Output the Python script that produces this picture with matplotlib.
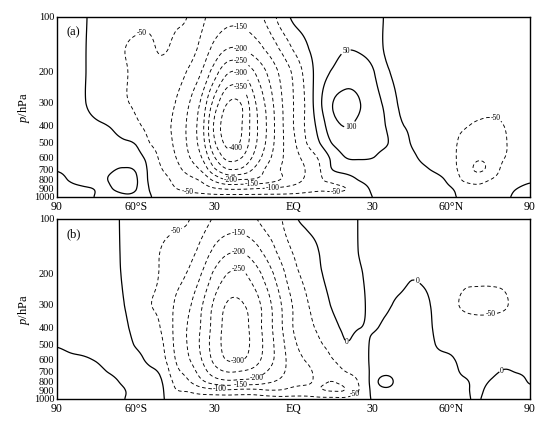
import numpy as np
import matplotlib
matplotlib.use('Agg')
import matplotlib.pyplot as plt

plt.rcParams['font.family'] = 'Liberation Serif'
plt.rcParams['mathtext.fontset'] = 'custom'
plt.rcParams['mathtext.it'] = 'Liberation Serif:italic'
plt.rcParams['mathtext.rm'] = 'Liberation Serif'
plt.rcParams['axes.unicode_minus'] = False
plt.rcParams['lines.dashed_pattern'] = [4, 3]

# grid the values were read on: 5 deg latitude, 11 pressure levels
lats = np.arange(-90, 91, 5)
levels_hpa = [100, 150, 200, 300, 400, 500, 600, 700, 800, 900, 1000]

# streamfunction, one row per latitude (100 ... 1000 hPa)
psi_a_cols = [
    [10, 12, 14, 15, 15, 12, 8, 2, -8, -12, -15],          # 90S
    [8, 8, 10, 12, 12, 12, 12, 8, 3, -10, -12],
    [3, 3, 3, 3, 10, 15, 18, 22, 20, -6, -8],
    [-10, -15, -15, -15, 5, 15, 25, 35, 35, 5, 3],
    [-28, -33, -35, -35, -2, 12, 30, 45, 52, 45, 30],
    [-38, -48, -45, -45, -20, 6, 30, 52, 60, 57, 45],
    [-43, -55, -57, -55, -42, -4, 18, 45, 55, 52, 40],
    [-44, -56, -60, -62, -62, -48, -17, -8, -5, 0, 5],
    [-40, -46, -62, -75, -85, -75, -65, -50, -32, -25, -15],
    [-45, -58, -75, -100, -110, -108, -98, -82, -62, -48, -30],
    [-52, -75, -105, -145, -160, -158, -145, -120, -85, -60, -35],
    [-90, -115, -150, -210, -230, -225, -200, -160, -110, -75, -35],
    [-118, -165, -225, -320, -360, -345, -300, -245, -165, -95, -35],
    [-135, -200, -292, -400, -428, -415, -370, -300, -205, -105, -35],
    [-135, -200, -295, -398, -405, -395, -355, -295, -200, -105, -35],
    [-120, -175, -250, -310, -320, -315, -290, -245, -195, -100, -35],
    [-88, -140, -195, -235, -245, -240, -220, -190, -175, -95, -35],
    [-32, -95, -140, -160, -165, -165, -160, -150, -150, -90, -35],
    [8, -45, -90, -100, -100, -110, -120, -130, -125, -80, -35],   # EQ
    [18, -5, -30, -40, -40, -50, -80, -95, -90, -65, -35],
    [25, 20, 25, 40, 20, 0, -40, -52, -55, -55, -35],
    [30, 35, 55, 100, 85, 55, 15, 3, -40, -55, -35],
    [32, 48, 78, 112, 102, 80, 52, 20, -22, -50, -30],
    [28, 45, 75, 102, 92, 78, 56, 25, 3, -20, -15],
    [18, 30, 55, 72, 70, 65, 52, 25, 15, 5, 0],
    [-3, -5, 10, 40, 50, 55, 35, 22, 20, 12, 5],
    [-15, -18, -15, -3, 8, 25, 22, 22, 22, 15, 8],
    [-20, -22, -25, -18, -8, -3, 8, 15, 22, 15, 8],
    [-22, -25, -28, -28, -25, -22, -12, 5, 18, 12, 8],
    [-22, -25, -28, -32, -38, -35, -30, -12, 10, 8, 6],
    [-22, -26, -30, -35, -45, -45, -42, -35, -15, 2, 3],
    [-22, -26, -30, -38, -48, -56, -65, -70, -58, -20, -5],
    [-22, -26, -30, -40, -53, -68, -92, -108, -68, -35, -10],
    [-20, -24, -28, -40, -55, -65, -85, -85, -50, -25, -10],
    [-18, -22, -25, -38, -50, -53, -52, -38, -28, -12, -5],
    [-12, -15, -18, -28, -35, -40, -40, -30, -15, 0, 5],
    [-8, -10, -12, -15, -20, -22, -20, -15, -5, 8, 15],     # 90N
]

psi_b_cols = [
    [8, 8, 8, 8, 6, 1, -5, -8, -10, -10, -10],             # 90S
    [10, 10, 10, 10, 10, 4, -3, -8, -10, -10, -10],
    [10, 10, 10, 10, 10, 8, -2, -6, -8, -8, -8],
    [10, 10, 10, 10, 12, 12, 2, -5, -8, -8, -8],
    [8, 8, 8, 8, 12, 14, 10, 2, -6, -6, -6],
    [-3, -3, -2, 2, 8, 14, 14, 10, 3, -2, -1],
    [-14, -22, -23, -20, -12, -3, 12, 15, 12, 8, 5],
    [-27, -37, -38, -47, -33, -23, -10, 8, 12, 10, 6],
    [-38, -52, -55, -60, -55, -45, -35, -12, 0, 4, 3],
    [-43, -65, -80, -105, -110, -108, -100, -85, -62, -45, -20],
    [-48, -80, -105, -140, -155, -155, -145, -120, -95, -55, -25],
    [-80, -115, -150, -195, -205, -210, -200, -175, -140, -75, -25],
    [-105, -160, -210, -260, -270, -275, -265, -230, -175, -85, -25],
    [-120, -190, -250, -305, -318, -318, -305, -255, -190, -90, -25],
    [-120, -195, -258, -305, -322, -320, -305, -250, -185, -85, -25],
    [-105, -170, -225, -275, -280, -285, -275, -235, -180, -85, -25],
    [-80, -130, -175, -220, -225, -230, -225, -200, -160, -95, -30],
    [-55, -85, -120, -155, -160, -170, -175, -165, -140, -95, -35],
    [-8, -45, -65, -95, -98, -110, -120, -125, -115, -85, -35],    # EQ
    [8, -20, -35, -55, -65, -80, -95, -110, -105, -85, -35],
    [15, 2, -5, -25, -40, -55, -70, -85, -95, -95, -40],
    [25, 25, 18, 5, -12, -35, -50, -70, -100, -102, -40],
    [30, 30, 25, 18, 8, -3, -30, -48, -82, -96, -40],
    [-3, -2, 5, 10, 1, -15, -25, -30, -45, -48, -20],
    [-12, -12, -12, -10, -3, 5, 8, 8, 15, 8, 2],
    [-15, -15, -15, -5, 5, 12, 15, 25, 80, 30, 10],
    [-15, -15, -12, 5, 12, 18, 20, 22, 25, 20, 12],
    [-15, -15, -3, 10, 15, 20, 20, 20, 20, 18, 12],
    [-15, -15, -8, 8, 12, 15, 15, 15, 15, 15, 10],
    [-18, -18, -20, -15, -10, -3, 8, 12, 12, 12, 8],
    [-20, -22, -32, -40, -25, -10, 3, 8, 8, 8, 5],
    [-22, -28, -40, -55, -30, -18, -10, -5, 3, 3, 2],
    [-25, -32, -40, -60, -32, -18, -12, -8, -5, -3, -1],
    [-25, -32, -40, -60, -30, -15, -10, -5, 1, 5, 5],
    [-22, -28, -38, -55, -25, -12, -6, 1, 8, 8, 8],
    [-18, -22, -30, -38, -20, -10, -5, -1, 5, 8, 8],
    [-12, -15, -20, -25, -15, -8, -4, -2, -1, 3, 5],        # 90N
]

xtick_pos = [-90, -60, -30, 0, 30, 60, 90]
xtick_labels = ['90', '60°S', '30', 'EQ', '30', '60°N', '90']
ytick_pos = [100, 200, 300, 400, 500, 600, 700, 800, 900, 1000]
contour_levels = np.arange(-450, 151, 50)


def spline_weights(n, t):
    # Catmull-Rom weights, fractional index t -> n source points
    i = np.clip(np.floor(t).astype(int), 0, n - 2)
    u = t - i
    w = [(-u**3 + 2*u**2 - u) / 2, (3*u**3 - 5*u**2 + 2) / 2,
         (-3*u**3 + 4*u**2 + u) / 2, (u**3 - u**2) / 2]
    W = np.zeros((len(t), n))
    rows = np.arange(len(t))
    for k, wk in zip(range(-1, 3), w):
        np.add.at(W, (rows, np.clip(i + k, 0, n - 1)), wk)
    return W


lat_f = np.linspace(-90, 90, 241)
logp_f = np.linspace(2, 3, 160)
p_f = 10**logp_f
W_lat = spline_weights(len(lats), (lat_f + 90) / 5.0)
W_p = spline_weights(len(levels_hpa),
                     np.interp(logp_f, np.log10(levels_hpa), np.arange(len(levels_hpa))))


def fine(cols):
    z = np.array(cols, dtype=float).T
    return W_p @ z @ W_lat.T


def draw(ax, cols, tag, spots):
    z = fine(cols)
    styles = ['dashed' if v < 0 else 'solid' for v in contour_levels]
    widths = [0.65 if v < 0 else 0.9 for v in contour_levels]
    cs = ax.contour(lat_f, p_f, z, levels=contour_levels, colors='k',
                    linewidths=widths, linestyles=styles)
    texts = ax.clabel(cs, manual=spots, fmt='%d', fontsize=5.5,
                      inline=True, inline_spacing=1)
    for t in texts:
        t.set_rotation(0)
    ax.set_yscale('log')
    ax.set_ylim(1000, 100)
    ax.set_xlim(-90, 90)
    ax.set_yticks(ytick_pos)
    ax.set_yticklabels([str(v) for v in ytick_pos])
    ax.minorticks_off()
    ax.set_xticks(xtick_pos)
    ax.set_xticklabels(xtick_labels)
    ax.tick_params(axis='x', length=0, labelsize=8.5, pad=3)
    ax.tick_params(axis='y', length=0, labelsize=7.5, pad=2)
    ax.set_ylabel('$p$/hPa', fontsize=9, labelpad=1)
    ax.text(0.02, 0.95, tag, transform=ax.transAxes, fontsize=9, va='top')
    for s in ax.spines.values():
        s.set_linewidth(1.0)


fig = plt.figure(figsize=(5.51, 4.33), dpi=100)
ax_a = fig.add_axes([57/551, 1 - 197/433, 473/551, 180/433])
ax_b = fig.add_axes([57/551, 1 - 399/433, 473/551, 180/433])

spots_a = [(-58, 115), (-20, 123), (-20, 147), (-20, 170), (-20, 203),
           (-20, 243), (-22, 535), (-24, 800), (-16, 852), (-8, 888),
           (-40, 945), (16, 900), (20, 158), (22, 414), (77, 362)]
spots_b = [(-45, 116), (-21, 126), (-21, 152), (-21, 192), (-21, 624),
           (-13, 781), (-20, 820), (-28, 878), (24, 950), (75, 318),
           (20, 500), (47, 224), (80, 708)]

draw(ax_a, psi_a_cols, '(a)', spots_a)
draw(ax_b, psi_b_cols, '(b)', spots_b)

fig.savefig('out.png', dpi=100)
